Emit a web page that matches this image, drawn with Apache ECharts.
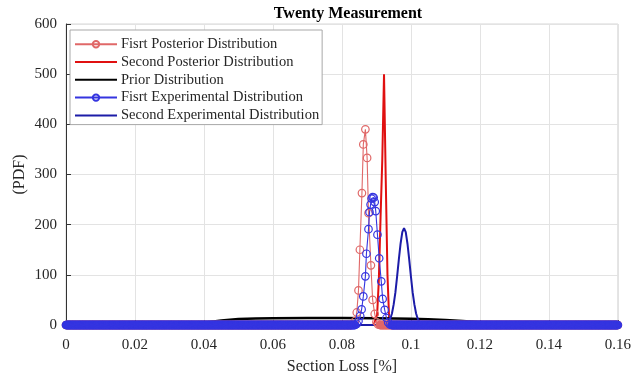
<!DOCTYPE html>
<html>
<head>
<meta charset="utf-8">
<script src="https://cdn.jsdelivr.net/npm/echarts@6/dist/echarts.min.js"></script>
<style>
  html, body { margin: 0; padding: 0; background: #fff; }
  #chart { width: 634px; height: 381px; }
</style>
</head>
<body>
<div id="chart"></div>
<script>
const xTickLabels = ['0', '0.02', '0.04', '0.06', '0.08', '0.1', '0.12', '0.14', '0.16'];
const yTickLabels = ['0', '100', '200', '300', '400', '500', '600'];

const seriesNames = [
  'Fisrt Posterior Distribution',
  'Second Posterior Distribution',
  'Prior Distribution',
  'Fisrt Experimental Distribution',
  'Second Experimental Distribution'
];

// [section loss, pdf]; the curves sit on 0 outside these spans
const firstPosterior = [
  [0.0828, 0], [0.0833, 2], [0.0838, 8], [0.0843, 25], [0.0848, 69], [0.0852, 150],
  [0.0858, 263], [0.0862, 360], [0.0868, 390], [0.0873, 333], [0.0877, 223],
  [0.0884, 119], [0.0889, 50], [0.0895, 22], [0.0900, 6], [0.0905, 1], [0.0910, 0]
];
const secondPosterior = [
  [0, 0], [0.0892, 0], [0.0897, 3], [0.0902, 20], [0.0907, 90], [0.0912, 215],
  [0.0917, 330], [0.0922, 500], [0.0927, 290], [0.0932, 100], [0.0937, 10],
  [0.0942, 0], [0.16, 0]
];
const prior = [
  [0, 0], [0.02, 0], [0.03, 0.2], [0.035, 1.2], [0.04, 4.5], [0.045, 9], [0.05, 12],
  [0.055, 13], [0.06, 13.5], [0.07, 14], [0.08, 14], [0.09, 13.5], [0.095, 13],
  [0.1, 12.5], [0.105, 11.5], [0.11, 10], [0.115, 8], [0.12, 5.5], [0.125, 3],
  [0.13, 1], [0.135, 0.3], [0.14, 0], [0.16, 0]
];
const firstExperimental = [
  [0.0838, 0], [0.0843, 2], [0.0848, 8], [0.0853, 18], [0.0857, 31], [0.0862, 57],
  [0.0868, 97], [0.0871, 142], [0.0877, 191], [0.0880, 225], [0.0883, 240],
  [0.0886, 252], [0.0889, 255], [0.0892, 254], [0.0895, 245], [0.0898, 227],
  [0.0903, 180], [0.0908, 133], [0.0914, 87], [0.0918, 52], [0.0924, 30],
  [0.0929, 14], [0.0934, 5], [0.0939, 1], [0.0944, 0]
];
const secondExperimental = [
  [0, 0], [0.0920, 0], [0.0925, 1], [0.0930, 3], [0.0935, 6], [0.0940, 12],
  [0.0945, 23], [0.0950, 41], [0.0955, 65], [0.0960, 97], [0.0965, 131],
  [0.0970, 162], [0.0975, 185], [0.0980, 193], [0.0985, 185], [0.0990, 162],
  [0.0995, 131], [0.1000, 97], [0.1005, 65], [0.1010, 41], [0.1015, 23],
  [0.1020, 12], [0.1025, 6], [0.1030, 3], [0.1035, 1], [0.1040, 0], [0.16, 0]
];

// marker series were sampled densely over the whole axis, zero outside the peak
const sampleStep = 0.0001;
function onBaseline(peak) {
  const lo = peak[0][0], hi = peak[peak.length - 1][0];
  const xs = [];
  for (let i = 0; i * sampleStep <= 0.16 + 1e-9; i++) xs.push(+(i * sampleStep).toFixed(4));
  return [
    ...xs.filter(x => x < lo).map(x => [x, 0]),
    ...peak,
    ...xs.filter(x => x > hi).map(x => [x, 0])
  ];
}

const font = 'Liberation Serif';
const textColor = '#262626';

const chart = echarts.init(document.getElementById('chart'), null, { renderer: 'canvas' });

const markerLine = (name, data, color) => ({
  name,
  type: 'line',
  data,
  symbol: 'circle',
  symbolSize: 7.5,
  showAllSymbol: true,
  clip: false,
  lineStyle: { color, width: 1.1 },
  itemStyle: { color: 'rgba(255,255,255,0)', borderColor: color, borderWidth: 1.2 },
  emphasis: { disabled: true },
  animation: false
});

const plainLine = (name, data, color, width) => ({
  name,
  type: 'line',
  data,
  symbol: 'none',
  clip: false,
  lineStyle: { color, width },
  itemStyle: { color },
  emphasis: { disabled: true },
  animation: false
});

// plain lines get a line-only key: hide the default round mark
const legendData = seriesNames.map((name, i) =>
  (i === 0 || i === 3) ? { name } : { name, itemStyle: { opacity: 0 } });

chart.setOption({
  animation: false,
  title: {
    text: 'Twenty Measurement',
    left: 343,
    textAlign: 'center',
    top: 1,
    textStyle: { fontFamily: font, fontSize: 16, fontWeight: 'bold', color: '#000' }
  },
  grid: {
    left: 66, right: 14, top: 24, bottom: 56,
    show: true, borderColor: '#d6d6d6', borderWidth: 1, backgroundColor: '#fff'
  },
  legend: {
    orient: 'vertical',
    left: 70,
    top: 30,
    padding: [6, 3, 1, 4],
    itemGap: 1.4,
    itemWidth: 42,
    itemHeight: 8,
    backgroundColor: '#fff',
    borderColor: '#a8a8a8',
    borderWidth: 1,
    borderRadius: 0,
    textStyle: { fontFamily: font, fontSize: 14.5, color: textColor, padding: [0, 0, 0, -1], lineHeight: 16.4 },
    data: legendData
  },
  xAxis: {
    type: 'value',
    min: 0,
    max: 0.16,
    interval: 0.02,
    name: 'Section Loss [%]',
    nameLocation: 'middle',
    nameGap: 34,
    nameTextStyle: { fontFamily: font, fontSize: 16, color: textColor },
    axisLine: { show: true, onZero: false, lineStyle: { color: '#333', width: 1 } },
    axisTick: { show: true, inside: true, length: 5, lineStyle: { color: '#333' } },
    axisLabel: {
      fontFamily: font, fontSize: 15, color: textColor, margin: 13,
      formatter: v => xTickLabels[Math.round(v / 0.02)]
    },
    splitLine: { show: true, lineStyle: { color: '#e3e3e3', width: 1 } }
  },
  yAxis: {
    type: 'value',
    min: 0,
    max: 600,
    interval: 100,
    name: '(PDF)',
    nameLocation: 'middle',
    nameGap: 38,
    nameMoveOverlap: false,
    nameTextStyle: { fontFamily: font, fontSize: 16, color: textColor },
    axisLine: { show: true, onZero: false, lineStyle: { color: '#333', width: 1 } },
    axisTick: { show: true, inside: true, length: 5, lineStyle: { color: '#333' } },
    axisLabel: {
      fontFamily: font, fontSize: 15, color: textColor, margin: 9,
      formatter: v => yTickLabels[Math.round(v / 100)]
    },
    splitLine: { show: true, lineStyle: { color: '#e3e3e3', width: 1 } }
  },
  series: [
    markerLine(seriesNames[0], onBaseline(firstPosterior), '#e06868'),
    plainLine(seriesNames[1], secondPosterior, '#e01010', 2),
    plainLine(seriesNames[2], prior, '#000000', 2.6),
    markerLine(seriesNames[3], onBaseline(firstExperimental), '#3535e0'),
    plainLine(seriesNames[4], secondExperimental, '#1c1ca8', 2)
  ]
});
</script>
</body>
</html>
